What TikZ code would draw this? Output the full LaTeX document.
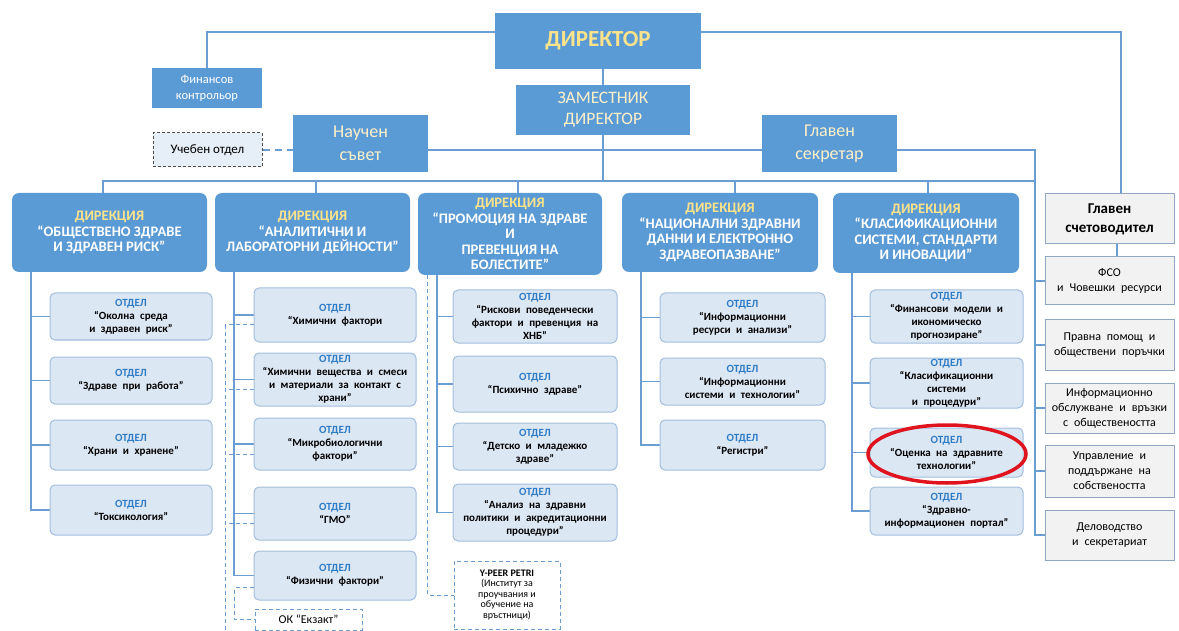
\documentclass[tikz,border=0pt]{standalone}
\usepackage{fontspec}
\setmainfont{Carlito}
\newfontfamily\widefont[WordSpace=2.2]{Carlito}
\usetikzlibrary{positioning, backgrounds}
\definecolor{mBlue}{HTML}{5B9BD5}
\definecolor{mLine}{HTML}{6A9ED3}
\definecolor{mYellow}{HTML}{FFE38A}
\definecolor{mCream}{HTML}{FFF0C8}
\definecolor{mPale}{HTML}{DCE7F4}
\definecolor{mEdge}{HTML}{A3BEDD}
\definecolor{mOtdel}{HTML}{2F7CC6}
\definecolor{mGrey}{HTML}{F2F2F2}
\definecolor{mGreyEdge}{HTML}{8FA7C3}
\definecolor{mRed}{HTML}{E0141E}
\tikzset{
  topbox/.style={fill=mBlue, inner sep=0pt, align=center},
  dirbox/.style={fill=mBlue, rounded corners=7pt, inner sep=0pt, align=center, text=white,
    font=\fontsize{14.5}{15.5}\selectfont\bfseries},
  deptbox/.style={fill=mPale, draw=mEdge, line width=1pt, rounded corners=5pt, inner sep=0pt,
    align=center, font=\widefont\fontsize{11}{13}\selectfont\bfseries},
  sidebox/.style={fill=mGrey, draw=mGreyEdge, line width=1pt, inner sep=0pt, align=center,
    minimum width=129pt, font=\widefont\fontsize{12}{15}\selectfont},
  dbox/.style={draw=mLine, line width=1pt, dash pattern=on 4pt off 3pt, fill=white, inner sep=0pt, align=center},
  link/.style={draw=mLine, line width=1.6pt},
  dlink/.style={draw=mLine, line width=1pt, dash pattern=on 4pt off 3pt},
}
\newcommand{\otdel}{{\color{mOtdel}ОТДЕЛ}\\}
\newcommand{\dirtitle}{{\color{mYellow}ДИРЕКЦИЯ}\\}

\begin{document}
\begin{tikzpicture}[x=1pt, y=-1pt]
  \useasboundingbox (0,0) rectangle (1179,631);

  % управление
  \node[topbox, minimum width=206pt, minimum height=56pt, text=mYellow,
        font=\fontsize{23}{25}\selectfont\bfseries] (dir) at (598,41) {ДИРЕКТОР};
  \node[topbox, minimum width=174pt, minimum height=50pt, text=mCream,
        font=\fontsize{17.5}{21}\selectfont] (zam) at (603,110) {ЗАМЕСТНИК\\ДИРЕКТОР};
  \node[topbox, minimum width=110pt, minimum height=40pt, text=white,
        font=\fontsize{12.5}{16}\selectfont] (fin) at (207,88) {Финансов\\контрольор};
  \node[topbox, minimum width=135pt, minimum height=57pt, text=mCream,
        font=\fontsize{18}{23}\selectfont] (nauch) at (360.5,143.5) {Научен\\съвет};
  \node[topbox, minimum width=135pt, minimum height=57pt, text=mCream,
        font=\fontsize{18}{23}\selectfont] (glsek) at (829.5,143.5) {Главен\\секретар};
  \node[draw=black!70, line width=1pt, dash pattern=on 3pt off 2pt, fill=mPale!70, inner sep=0pt,
        minimum width=109pt, minimum height=34pt, font=\fontsize{13}{15}\selectfont] (uch) at (207.5,150) {Учебен отдел};

  % дирекции
  \foreach \n/\cx/\w/\h/\t in
    {1/109.5/195/79/{“ОБЩЕСТВЕНО ЗДРАВЕ\\И ЗДРАВЕН РИСК”},
     2/312.5/195/79/{“АНАЛИТИЧНИ И\\ЛАБОРАТОРНИ ДЕЙНОСТИ”},
     3/510/184/82/{“ПРОМОЦИЯ НА ЗДРАВЕ\\И\\ПРЕВЕНЦИЯ НА\\БОЛЕСТИТЕ”},
     4/720/196/79/{“НАЦИОНАЛНИ ЗДРАВНИ\\ДАННИ И ЕЛЕКТРОННО\\ЗДРАВЕОПАЗВАНЕ”},
     5/926/186/80/{“КЛАСИФИКАЦИОННИ\\СИСТЕМИ, СТАНДАРТИ\\И ИНОВАЦИИ”}} {
    \node[dirbox, minimum width=\w pt, minimum height=\h pt] (dir\n) at (\cx,193+\h/2) {\dirtitle\t};
  }

  % отдели
  \foreach \k/\cy/\h/\t in
    {1/316.5/47/{“Околна среда\\и здравен риск”}, 2/380.5/47/{“Здраве при работа”},
     3/445/50/{“Храни и хранене”}, 4/510/50/{“Токсикология”}} {
    \node[deptbox, minimum width=162pt, minimum height=\h pt] (d1\k) at (131,\cy) {\otdel\t};
  }
  \foreach \k/\cy/\h/\t in
    {1/315/54/{“Химични фактори}, 2/379.5/53/{“Химични вещества и смеси\\и материали за контакт с\\храни”},
     3/444/52/{“Микробиологични\\фактори”}, 4/513.5/53/{“ГМО”}, 5/575.5/49/{“Физични фактори”}} {
    \node[deptbox, minimum width=162pt, minimum height=\h pt] (d2\k) at (335,\cy) {\otdel\t};
  }
  \foreach \k/\cy/\h/\t in
    {1/316.5/53/{“Рискови поведенчески\\фактори и превенция на\\ХНБ”}, 2/384/56/{“Психично здраве”},
     3/446.5/47/{“Детско и младежко\\здраве”}, 4/512.5/57/{“Анализ на здравни\\политики и акредитационни\\процедури”}} {
    \node[deptbox, minimum width=164pt, minimum height=\h pt] (d3\k) at (535,\cy) {\otdel\t};
  }
  \foreach \k/\cy/\h/\t in
    {1/317.5/49/{“Информационни\\ресурси и анализи”}, 2/381.5/47/{“Информационни\\системи и технологии”},
     3/445/50/{“Регистри”}} {
    \node[deptbox, minimum width=165pt, minimum height=\h pt] (d4\k) at (742.5,\cy) {\otdel\t};
  }
  \foreach \k/\cy/\h/\t in
    {1/316.5/53/{“Финансови модели и\\икономическо\\прогнозиране”}, 2/383/50/{“Класификационни\\системи\\и процедури”},
     3/452.5/49/{“Оценка на здравните\\технологии”}, 4/511/48/{“Здравно-\\информационен портал”}} {
    \node[deptbox, minimum width=153pt, minimum height=\h pt] (d5\k) at (946.5,\cy) {\otdel\t};
  }

  % дясна колона
  \node[sidebox, minimum height=50pt, font=\fontsize{15}{19}\selectfont\bfseries] (gls) at (1109.5,219) {Главен\\счетоводител};
  \foreach \b/\cy/\h/\t in
    {fso/281/48/{ФСО\\и Човешки ресурси}, prav/345/50/{Правна помощ и\\обществени поръчки},
     info/408/50/{Информационно\\обслужване и връзки\\с обществеността},
     upr/471/52/{Управление и\\поддържане на\\собствеността}, del/535/50/{Деловодство\\и секретариат}} {
    \node[sidebox, minimum height=\h pt] (\b) at (1109.5,\cy) {\t};
  }

  \node[dbox, minimum width=107pt, minimum height=21pt, font=\fontsize{12}{13}\selectfont] (ok) at (308.5,619.5) {ОК “Екзакт”};
  \node[dbox, minimum width=106pt, minimum height=68pt, font=\fontsize{10}{10.5}\selectfont] (ypeer) at (507,595)
    {{\bfseries Y-PEER PETRI}\\(Институт за\\проучвания и\\обучение на\\връстници)};

  \coordinate (rt) at (1035,150);
  \coordinate (bus) at (0,181);
  \coordinate (s2) at (225,325);
  \coordinate (s2end) at (225,633);

  \begin{scope}[on background layer]
    \draw[link] ([yshift=9pt]dir.west) -| (fin.north);
    \draw[link] ([yshift=9pt]dir.east) -| ([xshift=11.5pt]gls.north);
    \draw[link] ([xshift=5pt]dir.south) -- ([xshift=5pt]dir.south |- bus);
    \draw[link] (nauch.east |- rt) -- (rt) |- (del.west);
    \draw[link] ([xshift=-6.5pt]dir1.north) |- (rt |- bus);
    \foreach \n/\s in {2/3.5, 3/8, 4/15, 5/2}
      \draw[link] ([xshift=\s pt]dir\n.north) -- ([xshift=\s pt]dir\n.north |- bus);
    \foreach \b in {fso, prav, info, upr}
      \draw[link] (rt |- \b.west) -- (\b.west);
    \draw[link] ([xshift=7.5pt]gls.south) -- ([xshift=7.5pt]gls.south |- fso.north);
    \foreach \c/\last in {1/4, 2/5, 3/4, 4/3, 5/4} {
      \coordinate (t\c) at ([xshift=19pt]dir\c.south west);
      \draw[link] (t\c) |- (d\c\last.west);
      \foreach \k in {1,...,\last}
        \draw[link] (t\c |- d\c\k.west) -- (d\c\k.west);
    }
    % пунктир
    \draw[dlink, line width=1.6pt, dash pattern=on 7pt off 5pt] (uch.east) -- (nauch.west |- uch.east);
    \draw[dlink] (s2) -- (s2end);
    \foreach \k in {1,...,4}
      \draw[dlink] ([yshift=-10pt]d2\k.west) -- ++(-29,0);
    \draw[dlink] ([yshift=-12pt]d25.west) -- ++(-19,0) |- (ok.west);
    \draw[dlink] ([xshift=10pt]dir3.south west) |- (ypeer.west);
  \end{scope}

  \draw[mRed, line width=3.5pt] ([xshift=0.5pt,yshift=-1.5pt]d53.center) ellipse [x radius=79, y radius=29];
\end{tikzpicture}
\end{document}
